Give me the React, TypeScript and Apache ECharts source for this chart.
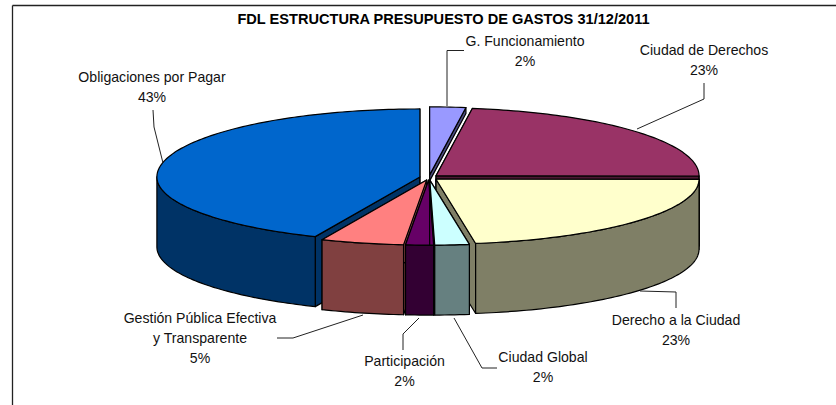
import React, { useEffect, useRef } from "react";
import * as echarts from "echarts";

const titleText = "FDL ESTRUCTURA PRESUPUESTO DE GASTOS 31/12/2011";
const categories = ["G. Funcionamiento", "Ciudad de Derechos", "Derecho a la Ciudad", "Ciudad Global", "Participación", "Gestión Pública Efectiva\ny Transparente", "Obligaciones por Pagar"];
const values = [2.2, 22.8, 22.5, 2.1, 1.7, 5.1, 43.4];
const topColors = ["#9999FF", "#993366", "#FFFFCC", "#CCFFFF", "#660066", "#FF8080", "#0066CC"];
const sideColors = ["#4C4C80", "#4C1933", "#7F7F66", "#668080", "#330033", "#804040", "#003366"];
const paintOrder = [1, 2, 3, 6, 5, 4, 0];

const labelCentres = [[525, 41], [704, 50], [676, 320], [543, 357], [404.5, 361], [200, 318], [152, 77]];
const leaders = [
  [[447, 106], [447, 50.5], [464, 50.5]],
  [[637, 129], [704, 99], [704, 83]],
  [[640, 291], [676, 292], [676, 308]],
  [[454, 318], [482, 368], [497, 368]],
  [[419, 318], [403, 334], [403, 350]],
  [[363, 315], [293, 338], [277, 338]],
  [[163, 163], [154, 127], [153, 110]],
];

const CX = 429, CY = 177.5, RX = 263, RY_BACK = 68, RY_FRONT = 65, DEPTH = 70, EXPLODE = 9.3, EXPLODE_Y = 0.28, BACK_FACE = 6;
const FONT = "'Liberation Sans', Arial, sans-serif";
const total = values.reduce((a, b) => a + b, 0);

function rim(ax: number, ay: number, t: number) {
  const c = Math.cos(t);
  return [ax + RX * Math.sin(t), ay - c * (c > 0 ? RY_BACK : RY_FRONT)];
}
function arc(ax: number, ay: number, a: number, b: number, dy = 0) {
  const n = Math.max(2, Math.ceil(Math.abs(b - a) / 0.02));
  const pts: number[][] = [];
  for (let i = 0; i <= n; i++) {
    const p = rim(ax, ay, a + ((b - a) * i) / n);
    pts.push([p[0], p[1] + dy]);
  }
  return pts;
}
function renderSlice(_params: any, api: any) {
  const idx = api.value(0) as number;
  let before = 0;
  for (let i = 0; i < idx; i++) before += values[i];
  const a0 = (before / total) * Math.PI * 2;
  const a1 = ((before + (api.value(1) as number)) / total) * Math.PI * 2;
  const mid = (a0 + a1) / 2;
  const ax = CX + EXPLODE * Math.sin(mid);
  const ay = CY - EXPLODE * EXPLODE_Y * Math.cos(mid);
  const base = paintOrder.indexOf(idx) * 10;
  const side = { fill: sideColors[idx], stroke: "#000", lineWidth: 1.2, lineJoin: "round" };
  const children: any[] = [];
  const face = (t: number) => {
    const d = t > 0.02 && t < Math.PI / 2 - 0.02 ? BACK_FACE : DEPTH;
    const r = rim(ax, ay, t);
    return { type: "polygon", z2: base, shape: { points: [[ax, ay], r, [r[0], r[1] + d], [ax, ay + d]] }, style: side };
  };
  children.push(face(a0), face(a1));
  const w0 = Math.max(a0, Math.PI / 2), w1 = Math.min(a1, Math.PI * 1.5);
  if (w1 > w0) {
    const top = arc(ax, ay, w0, w1);
    const bottom = arc(ax, ay, w1, w0, DEPTH);
    children.push({ type: "polygon", z2: base + 1, shape: { points: top.concat(bottom) }, style: side });
  }
  children.push({
    type: "polygon", z2: base + 2,
    shape: { points: [[ax, ay], ...arc(ax, ay, a0, a1)] },
    style: { fill: topColors[idx], stroke: "#000", lineWidth: 1.2, lineJoin: "round" },
  });
  return { type: "group", children };
}

export default function App() {
  const ref = useRef<HTMLDivElement>(null);
  useEffect(() => {
    const chart = echarts.init(ref.current!, undefined, { renderer: "svg" });
    const labels: any[] = [];
    categories.forEach((name, i) => {
      const lines = name.split("\n").concat(Math.round((values[i] / total) * 100) + "%");
      lines.forEach((line, j) => {
        labels.push({
          type: "text", x: labelCentres[i][0], y: labelCentres[i][1] + j * 20,
          style: { text: line, fill: "#111", font: "14.1px " + FONT, textAlign: "center", textVerticalAlign: "middle" },
        });
      });
    });
    chart.setOption({
      animation: false,
      backgroundColor: "#fff",
      title: {
        text: titleText, left: 438.5, top: 6, textAlign: "center",
        textStyle: { fontFamily: FONT, fontWeight: "bold", fontSize: 14.6, color: "#000" },
      },
      graphic: [
        { type: "line", shape: { x1: 12.5, y1: 5.5, x2: 836, y2: 5.5 }, style: { stroke: "#222", lineWidth: 1.3 }, silent: true },
        { type: "line", shape: { x1: 12.5, y1: 5.5, x2: 12.5, y2: 405 }, style: { stroke: "#222", lineWidth: 1.3 }, silent: true },
        ...leaders.map((p) => ({ type: "polyline", shape: { points: p }, style: { stroke: "#222", fill: "none", lineWidth: 1 }, silent: true, z: 5 })),
        ...labels,
      ],
      series: [{
        type: "custom", coordinateSystem: "none", renderItem: renderSlice, silent: true,
        data: values.map((v, i) => [i, v]),
      }],
    });
    return () => chart.dispose();
  }, []);
  return <div ref={ref} style={{ position: "fixed", left: 0, top: 0, width: 836, height: 405 }} />;
}
